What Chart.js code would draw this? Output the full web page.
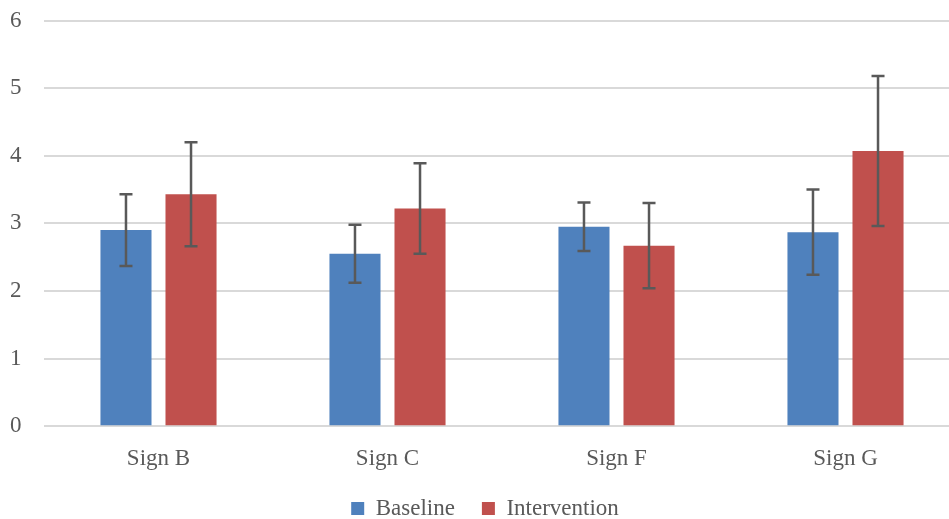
<!DOCTYPE html>
<html>
<head>
<meta charset="utf-8">
<script src="https://cdn.jsdelivr.net/npm/chart.js@4/dist/chart.umd.min.js"></script>
<style>
html,body{margin:0;padding:0;background:#fff;overflow:hidden;}
#wrap{width:949px;height:519px;overflow:hidden;}
</style>
</head>
<body>
<div id="wrap"><canvas id="c" width="990" height="519"></canvas></div>
<script>
const categories = ['Sign B', 'Sign C', 'Sign F', 'Sign G'];
const baseline = [2.90, 2.55, 2.95, 2.87];
const intervention = [3.43, 3.22, 2.67, 4.07];
const baselineErr = [0.53, 0.43, 0.36, 0.63];
const interventionErr = [0.77, 0.67, 0.63, 1.11];
const yTicks = [0, 1, 2, 3, 4, 5, 6];

const FONT = "'Liberation Serif', 'DejaVu Serif', serif";
const TEXT = '#595959';

const errorBars = {
  id: 'errorBars',
  afterDatasetsDraw(chart) {
    const ctx = chart.ctx;
    const y = chart.scales.y;
    chart.data.datasets.forEach((ds, di) => {
      const meta = chart.getDatasetMeta(di);
      meta.data.forEach((bar, i) => {
        const v = ds.data[i], e = ds.errors[i];
        const top = y.getPixelForValue(v + e);
        const bot = y.getPixelForValue(v - e);
        const x = bar.x;
        ctx.save();
        ctx.strokeStyle = '#595959';
        ctx.lineWidth = 2.5;
        ctx.beginPath();
        ctx.moveTo(x, top); ctx.lineTo(x, bot);
        ctx.moveTo(x - 6.5, top); ctx.lineTo(x + 6.5, top);
        ctx.moveTo(x - 6.5, bot); ctx.lineTo(x + 6.5, bot);
        ctx.stroke();
        ctx.restore();
      });
    });
  }
};

new Chart(document.getElementById('c'), {
  type: 'bar',
  data: {
    labels: categories,
    datasets: [
      { label: 'Baseline', data: baseline, errors: baselineErr, backgroundColor: '#4F81BD',
        categoryPercentage: 0.568, barPercentage: 0.785 },
      { label: 'Intervention', data: intervention, errors: interventionErr, backgroundColor: '#C0504D',
        categoryPercentage: 0.568, barPercentage: 0.785 }
    ]
  },
  options: {
    responsive: false,
    animation: false,
    events: [],
    layout: { padding: { top: 20.5, right: 30, left: 10, bottom: -11 } },
    plugins: {
      legend: {
        position: 'bottom',
        labels: {
          boxWidth: 13, boxHeight: 13, padding: 27,
          color: TEXT,
          font: { family: FONT, size: 23 }
        }
      },
      tooltip: { enabled: false }
    },
    scales: {
      x: {
        afterFit(scale) { scale.height = 43.8; },
        grid: { display: false, drawTicks: false },
        border: { display: false },
        ticks: { color: TEXT, font: { family: FONT, size: 23 }, padding: 19 }
      },
      y: {
        min: 0, max: 6,
        afterBuildTicks(scale) { scale.ticks = yTicks.map(v => ({ value: v })); },
        afterFit(scale) { scale.width = 34; },
        grid: { color: '#D9D9D9', lineWidth: 2, drawTicks: false },
        border: { display: false },
        ticks: { color: TEXT, font: { family: FONT, size: 23 }, padding: 0, crossAlign: 'far' }
      }
    }
  },
  plugins: [errorBars]
});
</script>
</body>
</html>
